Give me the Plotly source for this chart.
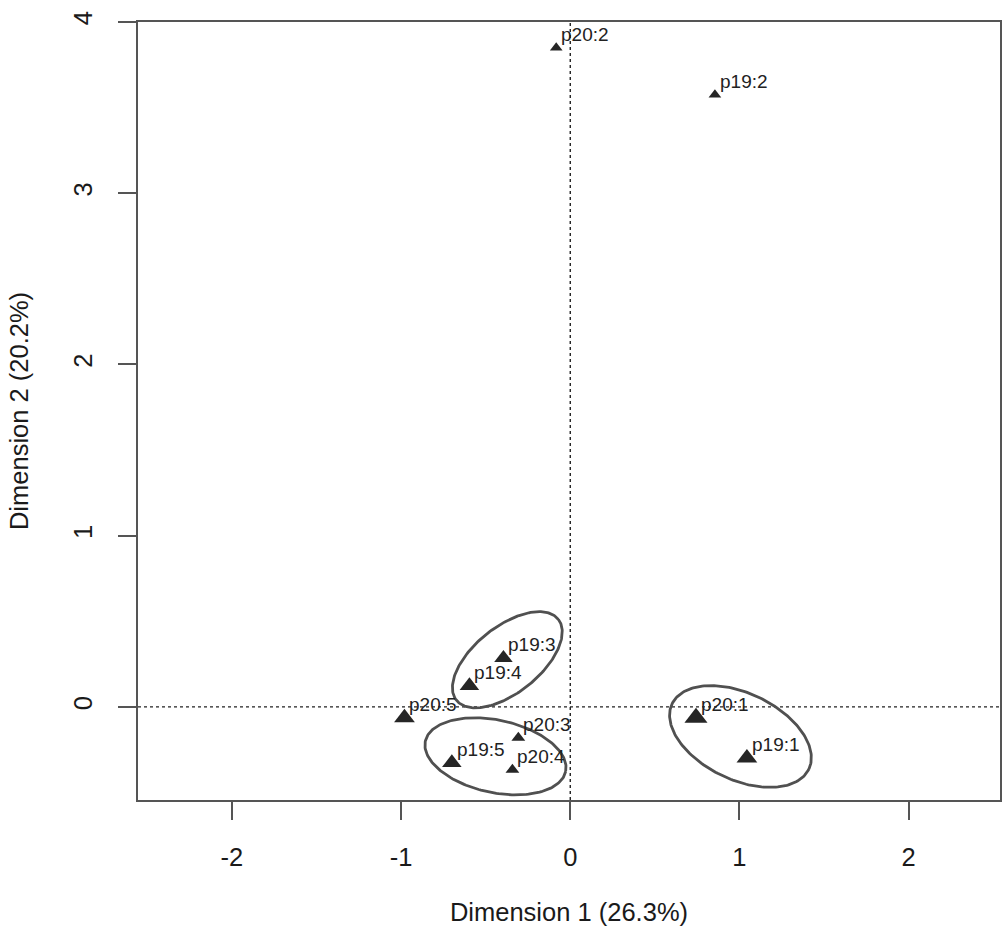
import numpy as np
import plotly.graph_objects as go

# ---- data ----
labels = ["p19:1", "p19:2", "p19:3", "p19:4", "p19:5",
          "p20:1", "p20:2", "p20:3", "p20:4", "p20:5"]
dim1 = [1.044, 0.855, -0.395, -0.596, -0.700, 0.743, -0.083, -0.307, -0.342, -0.980]
dim2 = [-0.298, 3.575, 0.286, 0.123, -0.327, -0.064, 3.850, -0.181, -0.368, -0.064]

# confidence ellipses: centre x, centre y, semi-axis a, semi-axis b, angle (deg)
ell_cx = [-0.372, -0.442, 1.006]
ell_cy = [0.275, -0.289, -0.173]
ell_a = [0.383, 0.424, 0.447]
ell_b = [0.194, 0.212, 0.253]
ell_ang = [38, -12, -25]

x_ticks = [-2, -1, 0, 1, 2]
y_ticks = [0, 1, 2, 3, 4]
x_title = "Dimension 1 (26.3%)"
y_title = "Dimension 2 (20.2%)"

# ---- styles ----
marker_sizes = [18, 11, 16, 17, 17, 20, 11, 12, 12, 18]
FONT = "Liberation Sans, Arial, sans-serif"
AXC = "#555555"
PTC = "#262626"
FS = 25.5

fig = go.Figure()

t = np.linspace(0, 2 * np.pi, 200)
for cx, cy, a, b, ang in zip(ell_cx, ell_cy, ell_a, ell_b, ell_ang):
    th = np.deg2rad(ang)
    ex = cx + a * np.cos(t) * np.cos(th) - b * np.sin(t) * np.sin(th)
    ey = cy + a * np.cos(t) * np.sin(th) + b * np.sin(t) * np.cos(th)
    fig.add_trace(go.Scatter(x=ex, y=ey, mode="lines",
                             line=dict(color="#505050", width=2.8),
                             hoverinfo="skip", showlegend=False))

fig.add_trace(go.Scatter(
    x=dim1, y=dim2, mode="markers",
    marker=dict(symbol="triangle-up", size=marker_sizes, color=PTC, opacity=1,
                line=dict(width=0)),
    text=labels, showlegend=False))

for lab, xv, yv in zip(labels, dim1, dim2):
    fig.add_annotation(x=xv, y=yv, text=lab, showarrow=False,
                       xanchor="left", yanchor="middle", xshift=3, yshift=13,
                       font=dict(family=FONT, size=19, color="#222222"))

# reference dotted lines
fig.add_shape(type="line", xref="x", yref="paper", x0=0, x1=0, y0=0, y1=1,
              line=dict(color="#222222", width=1.4, dash="dot"), layer="below")
fig.add_shape(type="line", xref="paper", yref="y", x0=0, x1=1, y0=0, y1=0,
              line=dict(color="#222222", width=1.4, dash="dot"), layer="below")

fig.update_layout(
    width=1002, height=929,
    margin=dict(l=138, r=0, t=22, b=129),
    paper_bgcolor="white", plot_bgcolor="white",
    font=dict(family=FONT, size=FS, color="#1a1a1a"),
    xaxis=dict(range=[-2.555, 2.54], tickvals=x_ticks, ticktext=[str(v) for v in x_ticks],
               showgrid=False, zeroline=False, showline=True, linecolor=AXC, linewidth=2,
               mirror=True, ticks="outside", ticklen=18, tickwidth=1.5, tickcolor=AXC,
               ticklabelstandoff=15,
               title=dict(text=x_title, standoff=34, font=dict(size=FS))),
    yaxis=dict(range=[-0.544, 4.0], tickvals=y_ticks, ticktext=[str(v) for v in y_ticks],
               showgrid=False, zeroline=False, showline=True, linecolor=AXC, linewidth=2,
               mirror=True, ticks="outside", ticklen=18, tickwidth=1.5, tickcolor=AXC,
               tickangle=-90, ticklabelstandoff=16,
               title=dict(text=y_title, standoff=33, font=dict(size=FS))),
)

fig.write_html("out.html")
